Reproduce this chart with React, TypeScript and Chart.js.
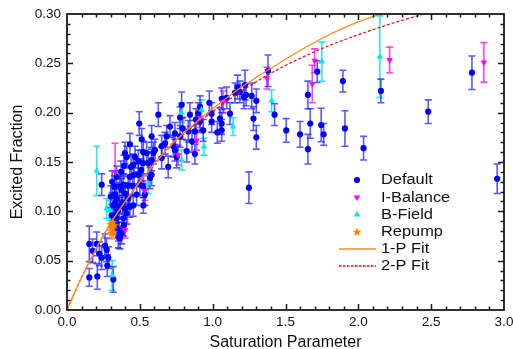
import { useEffect, useRef } from 'react';
import { Chart, registerables } from 'chart.js';

Chart.register(...registerables);

type Pt = [number, number, number]; // [saturation, excited fraction, error]

const DEFAULT_PTS: Pt[] = [
  [0.153, 0.067, 0.018], [0.153, 0.033, 0.009], [0.176, 0.060, 0.012], [0.204, 0.067, 0.012], [0.208, 0.034, 0.013],
  [0.222, 0.057, 0.012], [0.238, 0.053, 0.012], [0.261, 0.065, 0.012], [0.272, 0.061, 0.012], [0.277, 0.045, 0.011],
  [0.318, 0.031, 0.013], [0.283, 0.053, 0.011], [0.238, 0.127, 0.011],
  [0.307, 0.096, 0.011], [0.318, 0.106, 0.011], [0.325, 0.096, 0.011], [0.330, 0.108, 0.011], [0.325, 0.125, 0.011],
  [0.341, 0.088, 0.011], [0.341, 0.093, 0.011], [0.352, 0.081, 0.011], [0.352, 0.074, 0.011], [0.364, 0.073, 0.011],
  [0.375, 0.078, 0.011], [0.391, 0.086, 0.011], [0.387, 0.093, 0.011], [0.410, 0.098, 0.011], [0.432, 0.105, 0.011],
  [0.455, 0.106, 0.011], [0.341, 0.113, 0.011], [0.375, 0.122, 0.011], [0.421, 0.113, 0.011], [0.478, 0.117, 0.011],
  [0.535, 0.117, 0.011], [0.398, 0.103, 0.011], [0.524, 0.106, 0.008], [0.341, 0.135, 0.011], [0.387, 0.127, 0.011],
  [0.432, 0.135, 0.011], [0.489, 0.137, 0.011], [0.524, 0.125, 0.011], [0.391, 0.146, 0.011], [0.455, 0.147, 0.011],
  [0.524, 0.149, 0.011], [0.398, 0.159, 0.011], [0.410, 0.155, 0.011], [0.467, 0.155, 0.011], [0.432, 0.168, 0.011],
  [0.513, 0.173, 0.011], [0.496, 0.189, 0.012], [0.524, 0.160, 0.011], [0.547, 0.159, 0.011], [0.558, 0.149, 0.011],
  [0.570, 0.134, 0.011], [0.581, 0.137, 0.011], [0.300, 0.115, 0.011], [0.310, 0.130, 0.011], [0.360, 0.105, 0.011],
  [0.370, 0.140, 0.011], [0.400, 0.118, 0.011], [0.420, 0.126, 0.011], [0.440, 0.145, 0.011], [0.450, 0.126, 0.011],
  [0.460, 0.137, 0.011], [0.490, 0.151, 0.011], [0.500, 0.127, 0.011], [0.510, 0.142, 0.011], [0.360, 0.125, 0.011],
  [0.330, 0.117, 0.011], [0.350, 0.100, 0.011], [0.380, 0.109, 0.011],
  [0.581, 0.152, 0.011], [0.581, 0.176, 0.011], [0.593, 0.159, 0.011], [0.604, 0.162, 0.011], [0.627, 0.198, 0.012],
  [0.650, 0.154, 0.011], [0.650, 0.166, 0.011], [0.673, 0.169, 0.011], [0.684, 0.176, 0.011], [0.695, 0.145, 0.011],
  [0.707, 0.186, 0.011], [0.730, 0.166, 0.011], [0.741, 0.162, 0.011], [0.741, 0.179, 0.011], [0.753, 0.155, 0.011],
  [0.776, 0.176, 0.011], [0.776, 0.195, 0.011], [0.787, 0.208, 0.013], [0.794, 0.184, 0.011], [0.822, 0.161, 0.011],
  [0.833, 0.181, 0.011], [0.844, 0.198, 0.012], [0.858, 0.171, 0.011], [0.878, 0.181, 0.011], [0.878, 0.158, 0.010],
  [0.885, 0.193, 0.011], [0.901, 0.199, 0.011], [0.913, 0.206, 0.011], [0.913, 0.191, 0.011], [0.935, 0.182, 0.011],
  [0.977, 0.210, 0.012], [0.993, 0.199, 0.011], [0.993, 0.191, 0.011], [1.032, 0.180, 0.011], [1.050, 0.194, 0.011],
  [1.062, 0.182, 0.011], [1.062, 0.214, 0.011], [1.062, 0.189, 0.011], [1.096, 0.215, 0.011], [1.119, 0.199, 0.011],
  [1.153, 0.220, 0.010], [1.171, 0.226, 0.012], [1.187, 0.221, 0.011], [1.215, 0.216, 0.012], [1.222, 0.228, 0.015],
  [1.229, 0.218, 0.011], [1.268, 0.217, 0.013], [1.249, 0.124, 0.016],
  [1.28, 0.194, 0.012], [1.30, 0.212, 0.012], [1.30, 0.175, 0.012], [1.38, 0.2425, 0.016], [1.425, 0.198, 0.011],
  [1.505, 0.182, 0.012], [1.60, 0.178, 0.013], [1.654, 0.218, 0.014], [1.654, 0.163, 0.015], [1.67, 0.189, 0.015],
  [1.718, 0.2415, 0.011], [1.745, 0.1875, 0.017], [1.762, 0.178, 0.011], [1.894, 0.232, 0.011], [1.908, 0.184, 0.018],
  [2.036, 0.164, 0.012], [2.155, 0.222, 0.012], [2.48, 0.201, 0.012], [2.78, 0.2405, 0.017], [2.953, 0.133, 0.015],
];

const IBALANCE_PTS: Pt[] = [
  [0.33, 0.140, 0.029], [0.40, 0.081, 0.008], [0.535, 0.121, 0.010], [0.764, 0.157, 0.010], [0.89, 0.172, 0.010],
  [0.913, 0.195, 0.010], [1.073, 0.211, 0.011], [1.372, 0.235, 0.011], [1.684, 0.229, 0.019], [1.70, 0.2527, 0.012],
  [2.215, 0.2534, 0.013], [2.862, 0.251, 0.020],
];

const BFIELD_PTS: Pt[] = [
  [0.204, 0.141, 0.025], [0.31, 0.035, 0.015], [0.272, 0.103, 0.010], [0.295, 0.101, 0.010], [0.558, 0.128, 0.010],
  [0.787, 0.152, 0.010], [0.787, 0.200, 0.010], [0.924, 0.203, 0.010], [0.94, 0.1655, 0.0085], [1.14, 0.1858, 0.009],
  [1.405, 0.212, 0.011], [1.75, 0.2517, 0.0198], [2.148, 0.2567, 0.0414],
];

const REPUMP_PTS: Pt[] = [
  [0.300, 0.087, 0.006], [0.310, 0.083, 0.006], [0.320, 0.079, 0.006], [0.305, 0.078, 0.006],
  [0.325, 0.086, 0.006], [0.315, 0.089, 0.006],
];

const FIT1_X = [0, 0.1, 0.2, 0.3, 0.4, 0.5, 0.6, 0.7, 0.8, 0.9, 1.0, 1.2, 1.4, 1.6, 1.8, 2.0, 2.15, 2.25];
const FIT1_Y = [0, 0.033, 0.062, 0.088, 0.110, 0.130, 0.148, 0.165, 0.179, 0.192, 0.204, 0.226, 0.245, 0.263, 0.279, 0.292, 0.300, 0.305];
const FIT2_X = [0, 0.1, 0.2, 0.3, 0.4, 0.5, 0.6, 0.7, 0.8, 0.9, 1.0, 1.2, 1.4, 1.6, 1.8, 2.0, 2.2, 2.45, 2.55];
const FIT2_Y = [0, 0.033, 0.062, 0.088, 0.110, 0.130, 0.148, 0.164, 0.178, 0.190, 0.201, 0.222, 0.240, 0.255, 0.268, 0.279, 0.289, 0.300, 0.304];

const X_TICKS = [0, 0.5, 1.0, 1.5, 2.0, 2.5, 3.0];
const X_TICK_LABELS = ['0.0', '0.5', '1.0', '1.5', '2.0', '2.5', '3.0'];
const Y_TICKS = [0, 0.05, 0.10, 0.15, 0.20, 0.25, 0.30];
const Y_TICK_LABELS = ['0.00', '0.05', '0.10', '0.15', '0.20', '0.25', '0.30'];
const LEGEND_LABELS = ['Default', 'I-Balance', 'B-Field', 'Repump', '1-P Fit', '2-P Fit'];

const FONT = '"Liberation Sans", Arial, Helvetica, sans-serif';
const BLUE = '#0000ff';
const MAGENTA = '#ff00ff';
const CYAN = '#00e8e8';
const ORANGE = '#ff8000';
const FIT1_COLOR = '#ff8c1a';
const FIT2_COLOR = '#ff0000';

function starPath(ctx: CanvasRenderingContext2D, cx: number, cy: number, R: number, r: number) {
  ctx.beginPath();
  for (let i = 0; i < 10; i++) {
    const rad = i % 2 === 0 ? R : r;
    const a = -Math.PI / 2 + (i * Math.PI) / 5;
    const px = cx + Math.cos(a) * rad;
    const py = cy + Math.sin(a) * rad;
    if (i === 0) ctx.moveTo(px, py);
    else ctx.lineTo(px, py);
  }
  ctx.closePath();
}

function triPath(ctx: CanvasRenderingContext2D, cx: number, cy: number, r: number, down: boolean) {
  const s = down ? -1 : 1;
  ctx.beginPath();
  ctx.moveTo(cx, cy - s * r);
  ctx.lineTo(cx + r * 0.866, cy + s * r * 0.5);
  ctx.lineTo(cx - r * 0.866, cy + s * r * 0.5);
  ctx.closePath();
}

const errorBarPlugin = {
  id: 'errorBars',
  beforeDatasetsDraw(chart: any) {
    const { ctx, chartArea, scales } = chart;
    const xs = scales.x;
    const ys = scales.y;
    ctx.save();
    ctx.beginPath();
    ctx.rect(chartArea.left, chartArea.top, chartArea.right - chartArea.left, chartArea.bottom - chartArea.top);
    ctx.clip();
    chart.data.datasets.forEach((ds: any) => {
      if (!ds.errors) return;
      ctx.strokeStyle = ds.errColor;
      ctx.lineWidth = 1.6;
      ds.data.forEach((p: any, j: number) => {
        const e = ds.errors[j];
        const px = xs.getPixelForValue(p.x);
        const y1 = ys.getPixelForValue(p.y + e);
        const y2 = ys.getPixelForValue(p.y - e);
        ctx.beginPath();
        ctx.moveTo(px, y1);
        ctx.lineTo(px, y2);
        ctx.moveTo(px - 3.5, y1);
        ctx.lineTo(px + 3.5, y1);
        ctx.moveTo(px - 3.5, y2);
        ctx.lineTo(px + 3.5, y2);
        ctx.stroke();
      });
    });
    ctx.restore();
  },
};

const framePlugin = {
  id: 'frame',
  afterDraw(chart: any) {
    const { ctx, chartArea, scales } = chart;
    const { left, right, top, bottom } = chartArea;
    const xs = scales.x;
    const ys = scales.y;
    ctx.save();
    ctx.strokeStyle = '#1a1a1a';
    ctx.lineWidth = 1.5;
    ctx.beginPath();
    for (let k = 1; k < 30; k++) {
      const major = k % 5 === 0;
      const len = major ? 6 : 3.5;
      const px = Math.round(xs.getPixelForValue(k / 10)) + 0.5;
      ctx.moveTo(px, bottom);
      ctx.lineTo(px, bottom - len);
      ctx.moveTo(px, top);
      ctx.lineTo(px, top + len);
      const py = Math.round(ys.getPixelForValue(k / 100)) + 0.5;
      ctx.moveTo(left, py);
      ctx.lineTo(left + len, py);
      ctx.moveTo(right, py);
      ctx.lineTo(right - len, py);
    }
    ctx.stroke();
    ctx.lineWidth = 1.8;
    ctx.strokeRect(left, top, right - left, bottom - top);
    ctx.restore();
  },
};

function makeLegendPlugin(starImg: HTMLCanvasElement) {
  return {
    id: 'customLegend',
    afterDraw(chart: any) {
      const { ctx } = chart;
      const mx = 357;
      const tx = 381;
      const rows = [180, 197.3, 214.5, 231.7, 249, 266];
      ctx.save();
      ctx.fillStyle = BLUE;
      ctx.beginPath();
      ctx.arc(mx, rows[0], 3.1, 0, Math.PI * 2);
      ctx.fill();
      ctx.fillStyle = MAGENTA;
      triPath(ctx, mx, rows[1], 3.8, true);
      ctx.fill();
      ctx.fillStyle = CYAN;
      triPath(ctx, mx, rows[2], 3.8, false);
      ctx.fill();
      ctx.drawImage(starImg, mx - starImg.width / 2, rows[3] - starImg.height / 2);
      ctx.lineWidth = 1.3;
      ctx.strokeStyle = FIT1_COLOR;
      ctx.beginPath();
      ctx.moveTo(339, rows[4]);
      ctx.lineTo(376, rows[4]);
      ctx.stroke();
      ctx.strokeStyle = FIT2_COLOR;
      ctx.setLineDash([2.5, 1.5]);
      ctx.beginPath();
      ctx.moveTo(339, rows[5]);
      ctx.lineTo(376, rows[5]);
      ctx.stroke();
      ctx.setLineDash([]);
      ctx.fillStyle = '#111';
      ctx.font = `14px ${FONT}`;
      ctx.textBaseline = 'middle';
      ctx.textAlign = 'left';
      LEGEND_LABELS.forEach((lab, i) => {
        ctx.save();
        ctx.translate(tx, rows[i] + 0.5);
        ctx.scale(1.17, 1);
        ctx.fillText(lab, 0, 0);
        ctx.restore();
      });
      ctx.restore();
    },
  };
}

function toXY(pts: Pt[]) {
  return pts.map((p) => ({ x: p[0], y: p[1] }));
}

export default function App() {
  const canvasRef = useRef<HTMLCanvasElement | null>(null);

  useEffect(() => {
    const canvas = canvasRef.current;
    if (!canvas) return;

    const starImg = document.createElement('canvas');
    starImg.width = 10;
    starImg.height = 10;
    const sctx = starImg.getContext('2d')!;
    sctx.fillStyle = ORANGE;
    starPath(sctx, 5, 5.4, 4.6, 2.0);
    sctx.fill();

    const chart = new Chart(canvas, {
      type: 'scatter',
      data: {
        datasets: [
          {
            label: '1-P Fit',
            data: FIT1_X.map((x, i) => ({ x, y: FIT1_Y[i] })),
            showLine: true,
            borderColor: FIT1_COLOR,
            borderWidth: 1.3,
            pointRadius: 0,
            cubicInterpolationMode: 'monotone',
            order: 0,
          } as any,
          {
            label: '2-P Fit',
            data: FIT2_X.map((x, i) => ({ x, y: FIT2_Y[i] })),
            showLine: true,
            borderColor: FIT2_COLOR,
            borderWidth: 1.2,
            borderDash: [3, 2],
            pointRadius: 0,
            cubicInterpolationMode: 'monotone',
            order: 1,
          } as any,
          {
            label: 'Repump',
            data: toXY(REPUMP_PTS),
            errors: REPUMP_PTS.map((p) => p[2]),
            errColor: 'rgba(255,128,0,0.75)',
            pointStyle: starImg,
            pointRadius: 4,
            order: 2,
          } as any,
          {
            label: 'B-Field',
            data: toXY(BFIELD_PTS),
            errors: BFIELD_PTS.map((p) => p[2]),
            errColor: 'rgba(0,230,230,0.85)',
            pointStyle: 'triangle',
            pointRadius: 3.8,
            backgroundColor: CYAN,
            borderWidth: 0,
            order: 3,
          } as any,
          {
            label: 'I-Balance',
            data: toXY(IBALANCE_PTS),
            errors: IBALANCE_PTS.map((p) => p[2]),
            errColor: 'rgba(255,0,255,0.75)',
            pointStyle: 'triangle',
            rotation: 180,
            pointRadius: 3.8,
            backgroundColor: MAGENTA,
            borderWidth: 0,
            order: 4,
          } as any,
          {
            label: 'Default',
            data: toXY(DEFAULT_PTS),
            errors: DEFAULT_PTS.map((p) => p[2]),
            errColor: 'rgba(25,25,255,0.72)',
            pointStyle: 'circle',
            pointRadius: 3.1,
            backgroundColor: BLUE,
            borderWidth: 0,
            order: 5,
          } as any,
        ],
      },
      options: {
        animation: false,
        responsive: false,
        maintainAspectRatio: false,
        devicePixelRatio: 1,
        layout: { padding: { left: 0, right: 9, top: 14, bottom: 0 } },
        plugins: {
          legend: { display: false },
          tooltip: { enabled: false },
        },
        scales: {
          x: {
            type: 'linear',
            min: 0,
            max: 3,
            grid: { display: false, drawTicks: false, tickLength: 0 },
            border: { display: false },
            afterBuildTicks: (s: any) => {
              s.ticks = X_TICKS.map((v) => ({ value: v }));
            },
            afterFit: (s: any) => {
              s.height = 39;
              s.paddingLeft = 0;
              s.paddingRight = 0;
            },
            ticks: {
              padding: 4,
              maxRotation: 0,
              color: '#111',
              font: { family: FONT, size: 13.5 },
              callback: (_v: any, i: number) => X_TICK_LABELS[i],
            },
            title: {
              display: true,
              text: 'Saturation Parameter',
              color: '#111',
              font: { family: FONT, size: 16, lineHeight: 0.8 },
              padding: { top: 0, bottom: 0 },
            },
          },
          y: {
            type: 'linear',
            min: 0,
            max: 0.3,
            grid: { display: false, drawTicks: false, tickLength: 0 },
            border: { display: false },
            afterBuildTicks: (s: any) => {
              s.ticks = Y_TICKS.map((v) => ({ value: v }));
            },
            afterFit: (s: any) => {
              s.width = 67;
              s.paddingTop = 0;
              s.paddingBottom = 0;
            },
            ticks: {
              padding: 6,
              color: '#111',
              font: { family: FONT, size: 13.5 },
              callback: (_v: any, i: number) => Y_TICK_LABELS[i],
            },
            title: {
              display: true,
              text: 'Excited Fraction',
              color: '#111',
              font: { family: FONT, size: 16, lineHeight: 1.2 },
              padding: { top: 8, bottom: 0 },
            },
          },
        },
      } as any,
      plugins: [errorBarPlugin, framePlugin, makeLegendPlugin(starImg)],
    });

    return () => {
      chart.destroy();
    };
  }, []);

  return (
    <div style={{ position: 'fixed', left: 0, top: 0, width: 513, height: 349, background: '#fff' }}>
      <canvas ref={canvasRef} width={513} height={349} style={{ display: 'block', width: 513, height: 349 }} />
    </div>
  );
}
